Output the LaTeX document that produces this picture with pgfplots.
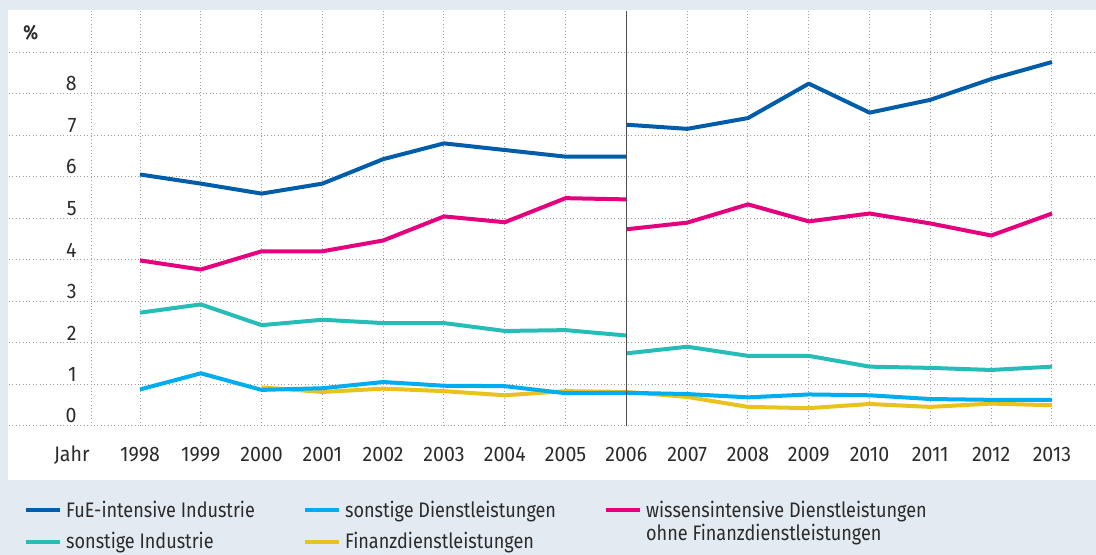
\documentclass[border=0pt]{standalone}
\usepackage{pgfplots}
\pgfplotsset{compat=1.18}
\usepackage{fontspec}
\setmainfont[FakeStretch=0.86]{Fira Sans}
\newfontfamily\tickfont[FakeStretch=0.93]{Fira Sans}
\definecolor{bgcol}{HTML}{E3EBF2}
\definecolor{txt}{HTML}{2B2B2B}
\definecolor{fue}{HTML}{005DA9}
\definecolor{teal}{HTML}{25BDB6}
\definecolor{lblue}{HTML}{00AEEF}
\definecolor{pink}{HTML}{E5007D}
\definecolor{yell}{HTML}{E9C21D}
\begin{document}
\begin{tikzpicture}
\fill[bgcol] (0,0) rectangle (548pt,277.5pt);
\fill[white] (4pt,37.5pt) rectangle (548pt,272.5pt);
\begin{axis}[
  at={(4.5pt,64.5pt)}, anchor=south west,
  scale only axis, width=543.5pt, height=207.5pt,
  xmin=1995.845, xmax=2013.724, ymin=0, ymax=10,
  axis line style={draw=none}, tick style={draw=none},
  xtick={1998,...,2013},
  xticklabels={1998,1999,2000,2001,2002,2003,2004,2005,2006,2007,2008,2009,2010,2011,2012,2013},
  ytick={0,1,2,3,4,5,6,7,8,9},
  yticklabels={0,1,2,3,4,5,6,7,8,{}},
  grid=major,
  major grid style={gray!75, line width=0.5pt, dash pattern=on 0.5pt off 1.2pt},
  extra x ticks={1997.21}, extra x tick labels={Jahr},
  extra x tick style={grid=major, xticklabel style={anchor=base east, xshift=-1pt}},
  /pgf/number format/assume math mode=true,
  tick label style={font=\tickfont\fontsize{10.5}{12}\selectfont, text=txt, inner sep=0pt},
  xticklabel style={anchor=base, yshift=-17.7pt},
  yticklabel style={anchor=east, xshift=34pt, yshift=5pt},
  legend columns=3,
  legend style={at={(axis description cs:0.008,-0.16)}, anchor=north west, draw=none, fill=none,
    font=\fontsize{10.5}{11}\selectfont, text=txt,
    /tikz/every even column/.append style={column sep=22pt},
    row sep=2pt},
  legend cell align=left,
  every axis plot/.append style={line width=2pt, line join=round},
]
\addlegendimage{fue, line width=2pt}
\addlegendentry{FuE-intensive Industrie}
\addlegendimage{lblue, line width=2pt}
\addlegendentry{sonstige Dienstleistungen}
\addlegendimage{pink, line width=2pt}
\addlegendentry{\begin{tabular}[t]{@{}l@{}}wissensintensive Dienstleistungen\\ohne Finanzdienstleistungen\end{tabular}}
\addlegendimage{teal, line width=2pt}
\addlegendentry{sonstige Industrie}
\addlegendimage{yell, line width=2pt}
\addlegendentry{Finanzdienstleistungen}

% FuE-intensive Industrie
\addplot[fue, forget plot] coordinates {(1998,6.06) (1999,5.84) (2000,5.60) (2001,5.84) (2002,6.43) (2003,6.81) (2004,6.65) (2005,6.49) (2006,6.49)};
\addplot[fue, forget plot] coordinates {(2006,7.26) (2007,7.16) (2008,7.42) (2009,8.25) (2010,7.55) (2011,7.86) (2012,8.36) (2013,8.77)};
% wissensintensive
\addplot[pink, forget plot] coordinates {(1998,3.99) (1999,3.77) (2000,4.21) (2001,4.21) (2002,4.47) (2003,5.05) (2004,4.91) (2005,5.49) (2006,5.46)};
\addplot[pink, forget plot] coordinates {(2006,4.74) (2007,4.90) (2008,5.34) (2009,4.93) (2010,5.12) (2011,4.88) (2012,4.59) (2013,5.12)};
% sonstige Industrie
\addplot[teal, forget plot] coordinates {(1998,2.73) (1999,2.93) (2000,2.43) (2001,2.56) (2002,2.48) (2003,2.48) (2004,2.29) (2005,2.31) (2006,2.18)};
\addplot[teal, forget plot] coordinates {(2006,1.75) (2007,1.91) (2008,1.69) (2009,1.69) (2010,1.43) (2011,1.40) (2012,1.35) (2013,1.43)};
% Finanzdienstleistungen
\addplot[yell, forget plot] coordinates {(2000,0.93) (2001,0.82) (2002,0.90) (2003,0.84) (2004,0.74) (2005,0.84) (2006,0.82) (2007,0.70) (2008,0.46) (2009,0.43) (2010,0.53) (2011,0.46) (2012,0.54) (2013,0.50)};
% sonstige Dienstleistungen
\addplot[lblue, forget plot] coordinates {(1998,0.88) (1999,1.27) (2000,0.87) (2001,0.91) (2002,1.06) (2003,0.97) (2004,0.96) (2005,0.79) (2006,0.80) (2007,0.77) (2008,0.69) (2009,0.76) (2010,0.74) (2011,0.65) (2012,0.63) (2013,0.63)};

\draw[black!70, line width=0.7pt] (axis cs:2006,0) -- (axis cs:2006,10);
\end{axis}
\node[anchor=west, inner sep=0pt, text=txt, font=\fontsize{10}{11}\selectfont\bfseries] at (11.5pt,261pt) {\%};
\pgfresetboundingbox
\path (0,0) rectangle (548pt,277.5pt);
\end{tikzpicture}
\end{document}
